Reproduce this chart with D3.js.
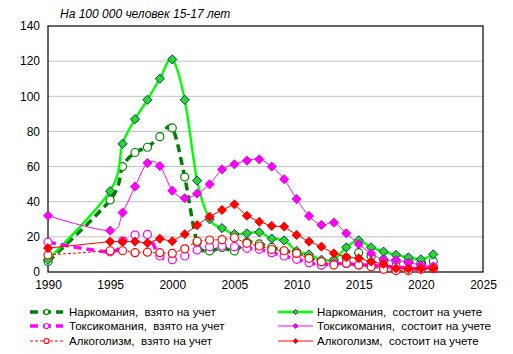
<!DOCTYPE html>
<html><head><meta charset="utf-8">
<script src="https://cdn.jsdelivr.net/npm/d3@7"></script>
<style>
body{margin:0;background:#fff;}
text{font-family:"Liberation Sans",Arial,sans-serif;}
</style></head>
<body><svg id="c" width="513" height="354"></svg>
<script>
const years = [1990,1995,1996,1997,1998,1999,2000,2001,2002,2003,2004,2005,2006,2007,2008,2009,2010,2011,2012,2013,2014,2015,2016,2017,2018,2019,2020,2021];
const narcoNew  = [6,41,60,68,71,77,82,54,17,12,14,12,17,16,14,12,11,9,4,6,8,11,9,7,6,6,5,6];
const narcoReg  = [7,46,73,87,98,110,121,98,52,30,25,21.6,22,22.6,19,18,12,10,7,7,14,18,14,11.6,9.7,8.3,7.2,10];
const toxNew    = [17,11.5,17.6,21,21.4,9.1,7,9.1,12.5,14.4,14.8,14.4,13.5,12.9,11,9.1,7.2,5.3,4,4.6,4.9,4,4,3,3,2,2,3];
const toxReg    = [32,23.5,33.8,48.6,62,60.3,46.3,42,44.6,49.9,58.4,61.3,63.4,64.1,60,52.8,41.5,31.9,26.8,28.1,22,15.8,10.6,6.8,6.8,5.3,4,3];
const alcNew    = [9.7,12.1,12.1,11,11.3,11,10.6,13.2,17.5,18.2,18.4,19.5,16.3,14.8,12.8,12.1,10.6,7.8,5.9,4,5,4,3,1.5,0.8,0.8,1.5,2];
const alcReg    = [13.6,17.3,17.3,17.3,16.5,18.9,17.5,21.5,26.7,31.5,35.3,38.5,32,28.6,26.2,25.8,21.1,17.3,14.4,10.6,8.5,7.8,5.9,4.6,2.1,1.8,2,2];
const xTicks = [1990,1995,2000,2005,2010,2015,2020,2025];
const yTicks = [0,20,40,60,80,100,120,140];
const seriesNames = ["Наркомания,  взято на учет","Наркомания,  состоит на учете","Токсикомания,  взято на учет","Токсикомания,  состоит на учете","Алкоголизм,  взято на учет","Алкоголизм,  состоит на учете"];
const titleText = "На 100 000 человек 15-17 лет";

const svg = d3.select("#c");
const L=48,R=483,T=26,B=272;
const x = d3.scaleLinear().domain([1990,2025]).range([L,R]);
const y = d3.scaleLinear().domain([0,140]).range([B,T]);

// gridlines
svg.append("g").selectAll("line").data(yTicks.filter(v=>v>0&&v<140)).join("line")
  .attr("x1",L).attr("x2",R).attr("y1",d=>y(d)).attr("y2",d=>y(d))
  .attr("stroke","#c0c0c0").attr("stroke-width",1);

// axes (labels only)
const yAx = d3.axisLeft(y).tickValues(yTicks).tickSize(0).tickPadding(8);
const gy = svg.append("g").attr("transform",`translate(${L},0)`).call(yAx);
gy.select(".domain").remove();
gy.selectAll("text").attr("font-size",12).attr("fill","#000").attr("font-family","Liberation Sans, Arial, sans-serif");
const xAx = d3.axisBottom(x).tickValues(xTicks).tickFormat(d3.format("d")).tickSize(0).tickPadding(8);
const gx = svg.append("g").attr("transform",`translate(0,${B})`).call(xAx);
gx.select(".domain").remove();
gx.selectAll("text").attr("font-size",12).attr("fill","#000").attr("font-family","Liberation Sans, Arial, sans-serif");

// plot border
svg.append("rect").attr("x",L).attr("y",T).attr("width",R-L).attr("height",B-T)
  .attr("fill","none").attr("stroke","#000").attr("stroke-width",1.2);

const defs = [
  {vals:narcoNew, color:"#008000", w:3.5, dash:"8,5", curve:true, marker:"circle", mstroke:"#008000", mfill:"#fff"},
  {vals:narcoReg, color:"#00ff00", w:2.4, dash:null, curve:true, marker:"diamond", mstroke:"#000080", mfill:"#22dd22"},
  {vals:toxNew, color:"#ff00ff", w:3.5, dash:"8,5", curve:true, marker:"circle", mstroke:"#ff00ff", mfill:"#fff"},
  {vals:toxReg, color:"#ff00ff", w:1, dash:null, curve:true, marker:"diamond", mstroke:"#cc00cc", mfill:"#ff00ff"},
  {vals:alcNew, color:"#ff0000", w:1, dash:"3,2", curve:false, marker:"circle", mstroke:"#ff0000", mfill:"#fff"},
  {vals:alcReg, color:"#ff0000", w:1, dash:null, curve:false, marker:"diamond", mstroke:"#ee0000", mfill:"#ff0000"}
];

function drawMarker(g, type, cx, cy, s){
  if(type==="circle"){
    g.append("circle").attr("cx",cx).attr("cy",cy).attr("r",4)
      .attr("fill",s.mfill).attr("stroke",s.mstroke).attr("stroke-width",1.2);
  } else {
    const h=4.6;
    g.append("path").attr("d",`M${cx},${cy-h}L${cx+h},${cy}L${cx},${cy+h}L${cx-h},${cy}Z`)
      .attr("fill",s.mfill).attr("stroke",s.mstroke).attr("stroke-width",0.8);
  }
}

defs.forEach(s=>{
  const pts = years.map((yr,i)=>[yr,s.vals[i]]);
  const line = d3.line().x(d=>x(d[0])).y(d=>y(d[1]))
    .curve(s.curve?d3.curveCardinal.tension(0):d3.curveLinear);
  const g = svg.append("g");
  g.append("path").attr("d",line(pts)).attr("fill","none").attr("stroke",s.color)
    .attr("stroke-width",s.w).attr("stroke-dasharray",s.dash);
  pts.forEach(p=>drawMarker(g,s.marker,x(p[0]),y(p[1]),s));
});

// title
svg.append("text").attr("x",60).attr("y",18).attr("font-size",12).attr("font-style","italic")
  .text(titleText);

// legend
const legRows=[312,326,341];
defs.forEach((s,i)=>{
  const col=i%2, row=Math.floor(i/2);
  const x0 = col===0?30:278, x1 = col===0?63:313, tx = col===0?69:317;
  const cy = legRows[row];
  const g = svg.append("g");
  g.append("line").attr("x1",x0).attr("x2",x1).attr("y1",cy).attr("y2",cy)
    .attr("stroke",s.color).attr("stroke-width",s.w).attr("stroke-dasharray",s.dash);
  if(s.marker==="circle"){
    g.append("circle").attr("cx",(x0+x1)/2).attr("cy",cy).attr("r",2.5)
      .attr("fill",s.mfill).attr("stroke",s.mstroke).attr("stroke-width",1.2);
  } else {
    const h=2.5, cx=(x0+x1)/2;
    g.append("path").attr("d",`M${cx},${cy-h}L${cx+h},${cy}L${cx},${cy+h}L${cx-h},${cy}Z`)
      .attr("fill",s.mfill).attr("stroke",s.mstroke).attr("stroke-width",0.8);
  }
  g.append("text").attr("x",tx).attr("y",cy+4).attr("font-size",11.5)
    .style("white-space","pre").text(seriesNames[i]);
});
</script></body></html>
